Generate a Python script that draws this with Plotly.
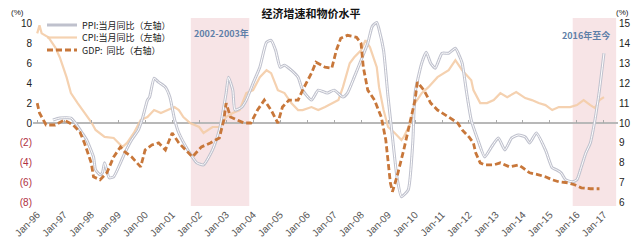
import plotly.graph_objects as go

cpi_dates = ["1996-01","1996-02","1996-03","1996-06","1996-09","1996-11","1997-02","1997-04","1997-07","1997-10",
             "1998-01","1998-03","1998-07","1998-11","1999-03","1999-05","1999-08","1999-11","2000-02","2000-05",
             "2000-08","2000-11","2001-02","2001-04","2001-06","2001-09","2002-01","2002-03","2002-07","2002-10",
             "2003-01","2003-04","2003-07","2003-10","2004-01","2004-04","2004-07","2004-09","2004-12","2005-03",
             "2005-06","2005-09","2005-11","2006-03","2006-06","2006-09","2007-03","2007-05","2007-08","2007-10",
             "2008-01","2008-03","2008-05","2008-08","2008-09","2008-11","2009-01","2009-04","2009-07","2009-08",
             "2009-11","2010-01","2010-04","2010-07","2010-11","2011-04","2011-07","2011-10","2012-01","2012-02",
             "2012-03","2012-06","2012-09","2012-12","2013-03","2013-06","2013-10","2014-02","2014-05","2014-08",
             "2014-11","2015-02","2015-05","2015-08","2015-10","2016-01","2016-04","2016-07","2016-09","2016-11","2017-01"]
cpi_vals = [9.0,9.8,9.0,8.6,7.6,6.6,4.6,3.0,2.0,1.0,
            0.1,-0.7,-1.4,-1.5,-2.4,-2.0,-1.0,0.3,0.6,1.3,
            1.0,1.3,1.6,1.3,0.6,0.0,-0.4,-1.0,-0.4,-0.4,
            0.6,1.0,1.3,3.0,3.3,4.6,5.3,5.0,3.3,3.0,
            2.0,1.3,1.3,1.6,1.3,1.6,2.3,3.6,6.0,6.6,
            7.3,8.3,7.6,5.6,3.6,1.3,-0.4,-1.0,-1.7,-1.4,
            0.0,2.0,3.0,3.6,4.6,5.3,6.3,5.3,4.6,4.3,
            3.3,2.0,2.0,2.3,3.0,2.6,3.1,2.5,2.3,2.0,
            1.8,1.3,1.6,1.6,1.6,1.8,2.3,1.8,1.5,2.3,2.6]

ppi_dates = ["1996-08","1996-11","1997-04","1997-06","1997-09","1997-11","1998-02","1998-03","1998-05","1998-06",
             "1998-07","1998-09","1998-11","1999-02","1999-04","1999-07","1999-10","1999-12","2000-02","2000-03",
             "2000-05","2000-07","2000-10","2000-12","2001-02","2001-04","2001-08","2001-12","2002-03","2002-07",
             "2002-10","2003-01","2003-02","2003-04","2003-05","2003-08","2003-10","2004-01","2004-04","2004-07",
             "2004-09","2004-11","2005-01","2005-03","2005-06","2005-09","2005-11","2006-03","2006-06","2006-10",
             "2007-01","2007-05","2007-07","2007-10","2008-01","2008-04","2008-06","2008-08","2008-09","2008-11",
             "2009-01","2009-03","2009-05","2009-07","2009-10","2009-12","2010-01","2010-04","2010-06","2010-08",
             "2010-10","2011-01","2011-04","2011-07","2011-09","2011-10","2011-12","2012-02","2012-05","2012-08",
             "2012-11","2013-02","2013-05","2013-08","2013-11","2014-02","2014-04","2014-07","2014-11","2015-02",
             "2015-04","2015-06","2015-08","2015-11","2016-01","2016-03","2016-05","2016-07","2016-09","2016-11","2017-01"]
ppi_vals = [0.3,0.5,0.5,0.0,-1.0,-1.7,-3.4,-4.7,-5.2,-5.0,
            -4.0,-5.5,-5.4,-4.0,-3.0,-1.7,-0.7,0.6,2.3,2.6,
            4.5,4.1,3.6,2.6,0.4,-1.0,-2.7,-4.0,-4.2,-2.7,
            -0.7,3.0,4.6,3.3,1.3,1.6,2.3,4.0,5.6,8.1,
            8.3,7.3,5.6,5.8,5.3,4.6,3.3,2.3,3.3,3.0,
            3.3,2.6,3.0,4.6,6.3,8.0,9.7,10.1,9.4,7.3,
            2.6,-1.4,-5.4,-7.4,-6.7,-2.0,3.0,6.0,7.1,6.0,
            5.5,7.0,7.0,7.5,6.6,6.0,3.0,0.3,-1.7,-3.4,
            -2.4,-1.5,-2.7,-1.5,-1.2,-1.4,-2.0,-1.0,-2.7,-4.5,
            -4.7,-5.0,-5.7,-5.9,-5.7,-4.4,-3.0,-2.0,0.3,3.3,7.0]

gdp_dates = ["1996-01","1996-02","1996-05","1996-09","1997-01","1997-05","1997-08","1997-10","1998-01","1998-02",
             "1998-05","1998-08","1998-11","1999-02","1999-04","1999-07","1999-11","2000-01","2000-04","2000-07",
             "2000-10","2001-01","2001-04","2001-07","2001-10","2002-02","2002-06","2002-10","2002-12","2003-01",
             "2003-03","2003-06","2003-09","2003-12","2004-03","2004-06","2004-09","2004-12","2005-02","2005-05",
             "2005-09","2005-11","2006-03","2006-05","2006-09","2006-12","2007-02","2007-04","2007-07","2007-11",
             "2008-01","2008-02","2008-04","2008-07","2008-10","2008-12","2009-02","2009-03","2009-05","2009-08",
             "2009-11","2010-01","2010-02","2010-05","2010-08","2010-11","2011-04","2011-08","2011-10","2012-01",
             "2012-03","2012-04","2012-06","2012-08","2012-12","2013-03","2013-07","2013-11","2014-01","2014-04",
             "2014-08","2014-11","2015-02","2015-05","2015-09","2015-12","2016-03","2016-07","2016-11"]
gdp_vals = [11.0,10.5,9.9,9.9,10.15,9.9,9.55,9.0,8.0,7.3,
            7.15,7.5,8.3,8.8,8.55,8.3,7.8,8.65,8.9,9.0,
            8.65,9.5,9.0,8.65,8.3,8.8,9.0,9.25,10.15,11.0,
            10.3,10.15,10.0,10.0,10.65,11.15,10.65,10.0,10.8,11.15,
            11.15,11.65,12.5,13.05,12.8,12.75,13.65,14.25,14.4,14.3,
            14.0,12.8,11.65,11.15,10.3,9.15,7.0,6.55,7.3,8.65,
            10.15,11.15,12.05,11.65,11.0,10.65,10.3,10.0,9.65,9.3,
            9.0,8.5,8.0,7.9,7.9,8.0,7.8,7.9,7.75,7.5,
            7.4,7.3,7.15,7.05,7.0,6.9,6.75,6.7,6.7]

left_ticks = [10, 8, 6, 4, 2, 0, -2, -4, -6, -8]
left_ticktext = ["10", "8", "6", "4", "2", "0",
                 "<span style='color:#B0303F'>(2)</span>", "<span style='color:#B0303F'>(4)</span>",
                 "<span style='color:#B0303F'>(6)</span>", "<span style='color:#B0303F'>(8)</span>"]
right_ticks = [15, 14, 13, 12, 11, 10, 9, 8, 7, 6]
x_ticks = [f"{y}-01-01" for y in range(1996, 2018)]

bands = [("2001-09-10", "2003-11-10"), ("2015-11-05", "2017-06-15")]

names = ["PPI:当月同比（左轴）", "CPI:当月同比（左轴）", "GDP:  同比（右轴）"]

L_RANGE = [-8.33, 10.54]
R_RANGE = [10 + L_RANGE[0] / 2, 10 + L_RANGE[1] / 2]
X_RANGE = ["1995-11-05", "2017-07-10"]

CJK = "Noto Sans CJK SC"
LAT = "Liberation Sans, Arial"

PLOT_L, PLOT_R = 33, 618
PLOT_T, PLOT_B = 18, 206
PW = PLOT_R - PLOT_L


def xpaper(px):
    return (px - PLOT_L) / PW


def ypaper(py):
    return (PLOT_B - py) / (PLOT_B - PLOT_T)


fig = go.Figure()

fig.add_trace(go.Scatter(x=cpi_dates, y=cpi_vals, mode="lines", name=names[1],
                         line=dict(color="#F4CDA8", width=2.2), opacity=0.9, legend="legend2"))
fig.add_trace(go.Scatter(x=ppi_dates, y=ppi_vals, mode="lines", name=names[0],
                         line=dict(color="#BFC1CD", width=3.0, shape="spline", smoothing=0.5), legend="legend"))
fig.add_trace(go.Scatter(x=ppi_dates, y=ppi_vals, mode="lines", showlegend=False, hoverinfo="skip",
                         line=dict(color="#FFFFFF", width=1.0, shape="spline", smoothing=0.5)))
fig.add_trace(go.Scatter(x=gdp_dates, y=gdp_vals, mode="lines", name=names[2], yaxis="y2",
                         line=dict(color="#C8773A", width=2.8, dash="6px,3px"), legend="legend3"))
# invisible helper so the zero-line tick axis renders
fig.add_trace(go.Scatter(x=[x_ticks[0]], y=[0], xaxis="x2", mode="markers", marker=dict(opacity=0),
                         showlegend=False, hoverinfo="skip"))

for x0, x1 in bands:
    fig.add_vrect(x0=x0, x1=x1, fillcolor="#F7E4E6", opacity=1, line_width=0, layer="below")

zero_pos = (0 - L_RANGE[0]) / (L_RANGE[1] - L_RANGE[0])

leg_common = dict(font=dict(family=CJK, size=9, color="#222222"), bgcolor="rgba(0,0,0,0)",
                  xanchor="left", yanchor="middle", itemwidth=30, tracegroupgap=0, borderwidth=0)
LEG_X = 42

fig.update_layout(
    width=640, height=240,
    margin=dict(l=PLOT_L, r=640 - PLOT_R, t=PLOT_T, b=240 - PLOT_B, autoexpand=False),
    paper_bgcolor="white", plot_bgcolor="white",
    title=dict(text="<b>经济增速和物价水平</b>", x=311 / 640, xanchor="center", y=1 - 14 / 240, yanchor="middle",
               font=dict(family=CJK, size=11, color="#111111")),
    xaxis=dict(type="date", range=X_RANGE, tickvals=x_ticks, tickformat="%b-%y", tickangle=-45,
               tickfont=dict(family=LAT, size=10, color="#555555"), showgrid=False, zeroline=False,
               showline=False, ticks="", automargin=False),
    xaxis2=dict(type="date", range=X_RANGE, tickvals=x_ticks, overlaying="x", anchor="free",
                position=zero_pos, showticklabels=False, ticks="inside", ticklen=3, tickcolor="#AAAAAA",
                showgrid=False, zeroline=False, showline=False, automargin=False),
    yaxis=dict(range=L_RANGE, tickvals=left_ticks, ticktext=left_ticktext, showgrid=False,
               zeroline=True, zerolinecolor="#B8B8B8", zerolinewidth=1.5, showline=False,
               tickfont=dict(family=LAT, size=10, color="#222222"), ticks="", automargin=False),
    yaxis2=dict(range=R_RANGE, tickvals=right_ticks, overlaying="y", side="right", showgrid=False,
                zeroline=False, showline=False, tickfont=dict(family=LAT, size=10, color="#222222"),
                ticks="", automargin=False),
    legend=dict(x=xpaper(LEG_X), y=ypaper(25), **leg_common),
    legend2=dict(x=xpaper(LEG_X), y=ypaper(37.5), **leg_common),
    legend3=dict(x=xpaper(LEG_X), y=ypaper(50), **leg_common),
    showlegend=True,
)

fig.add_annotation(text="(%)", xref="paper", yref="paper", x=xpaper(9), y=ypaper(13), xanchor="left",
                   yanchor="middle", showarrow=False, font=dict(family=LAT, size=8, color="#222222"))
fig.add_annotation(text="(%)", xref="paper", yref="paper", x=xpaper(614), y=ypaper(13), xanchor="left",
                   yanchor="middle", showarrow=False, font=dict(family=LAT, size=8, color="#222222"))
fig.add_annotation(text="<b>2002-2003年</b>", xref="paper", yref="paper", x=xpaper(192), y=ypaper(33),
                   xanchor="left", yanchor="middle", showarrow=False,
                   font=dict(family=CJK, size=9, color="#5F7FA8"))
fig.add_annotation(text="<b>2016年至今</b>", xref="paper", yref="paper", x=xpaper(560), y=ypaper(36),
                   xanchor="left", yanchor="middle", showarrow=False,
                   font=dict(family=CJK, size=9, color="#5F7FA8"))

fig.write_html("out.html")
